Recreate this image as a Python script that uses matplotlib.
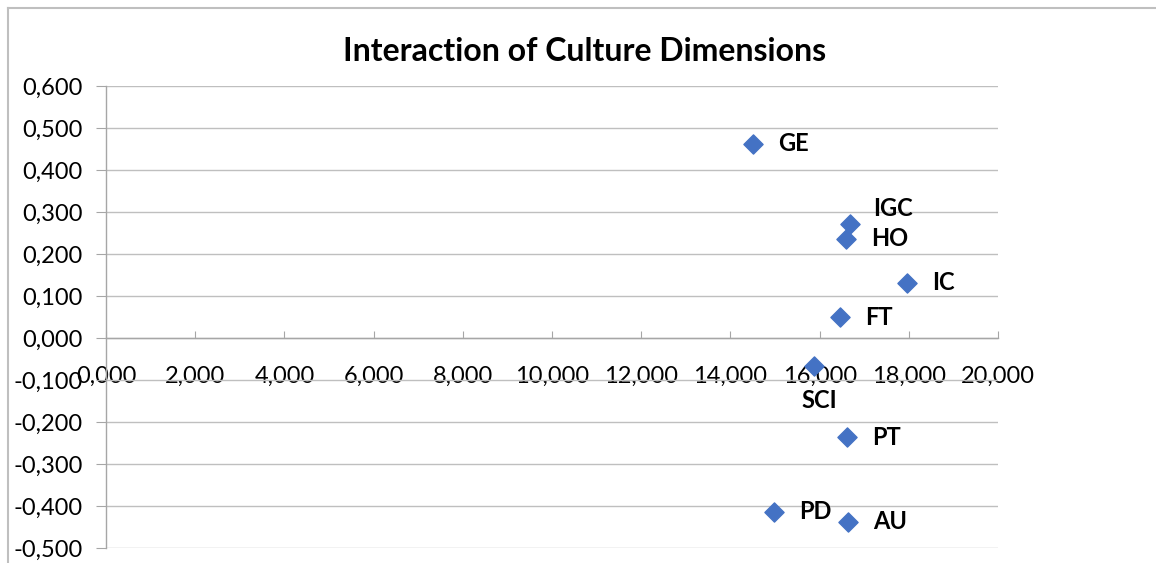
import matplotlib.pyplot as plt
from matplotlib.lines import Line2D
from matplotlib.ticker import FuncFormatter, MultipleLocator

plt.rcParams['font.family'] = ['Lato', 'DejaVu Sans']

labels = ["GE", "IGC", "HO", "IC", "FT", "SCI", "PT", "PD", "AU"]
x_values = [14.51, 16.68, 16.59, 17.97, 16.46, 15.87, 16.61, 14.98, 16.64]
y_values = [0.462, 0.271, 0.236, 0.132, 0.050, -0.067, -0.236, -0.414, -0.438]
# label offsets in points (most sit to the right of the marker)
offsets = {"IGC": (17, 11), "SCI": (4, -25)}

fig = plt.figure(figsize=(11.56, 5.63), dpi=100)
ax = fig.add_axes([0.0917, 0.0266, 0.7716, 0.8206])

ax.scatter(x_values, y_values, marker='D', s=95, color='#4472C4', zorder=3)

for lab, xv, yv in zip(labels, x_values, y_values):
    dx, dy = offsets.get(lab, (18, 0))
    ha = 'center' if lab == "SCI" else 'left'
    ax.annotate(lab, (xv, yv), xytext=(dx, dy), textcoords='offset points',
                ha=ha, va='center', fontsize=17, fontweight='bold', color='#000000')

ax.set_xlim(0, 20)
ax.set_ylim(-0.5, 0.6)
ax.xaxis.set_major_locator(MultipleLocator(2))
ax.yaxis.set_major_locator(MultipleLocator(0.1))
fmt = FuncFormatter(lambda v, p: f"{v:.3f}".replace('.', ',').replace('-0,000', '0,000'))
ax.xaxis.set_major_formatter(fmt)
ax.yaxis.set_major_formatter(fmt)

ax.grid(axis='y', color='#bfbfbf', linewidth=1)
ax.set_axisbelow(True)

for side in ['top', 'right']:
    ax.spines[side].set_visible(False)
ax.spines['bottom'].set_position(('data', 0))
ax.spines['left'].set_position(('data', 0))
for side in ['bottom', 'left']:
    ax.spines[side].set_color('#a6a6a6')
    ax.spines[side].set_linewidth(1)

ax.tick_params(axis='y', direction='out', length=7, color='#a6a6a6', labelsize=17, pad=10)
ax.tick_params(axis='x', direction='in', length=5, color='#a6a6a6', labelsize=17, pad=20)
for t in ax.get_xticklabels():
    t.set_verticalalignment('top')

ax.set_title("Interaction of Culture Dimensions", fontsize=23, fontweight='bold',
             pad=18, x=0.537)

# thin chart-area border on left and top
fig.add_artist(Line2D([0.007, 0.007], [0.0, 0.986], color='#bfbfbf', linewidth=1.5))
fig.add_artist(Line2D([0.007, 1.0], [0.986, 0.986], color='#bfbfbf', linewidth=1.5))

fig.savefig("out.png", dpi=100)
